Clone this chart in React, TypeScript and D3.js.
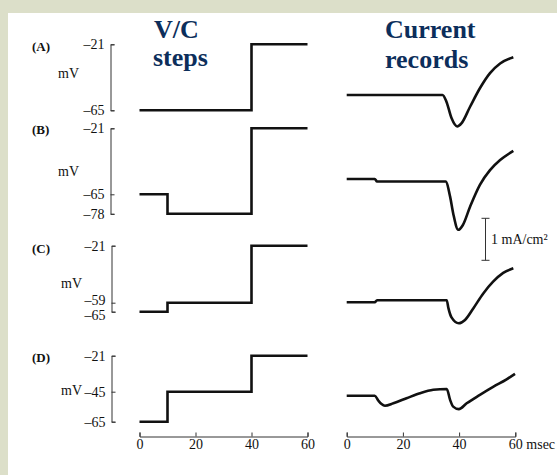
import React, { useRef, useEffect } from "react";
import * as d3 from "d3";

// time axis (msec)
const timeTicks = [0, 20, 40, 60];

// voltage-clamp command steps (mV), held from each stepTimes entry to the next
const stepTimes = [0, 10, 40, 60];
const stepsA = [-65, -65, -21, -21];
const stepsB = [-65, -78, -21, -21];
const stepsC = [-65, -59, -21, -21];
const stepsD = [-65, -45, -21, -21];
const voltTicks = [
  [-21, -65],
  [-21, -65, -78],
  [-21, -59, -65],
  [-21, -45, -65],
];
const panelLabels = ["(A)", "(B)", "(C)", "(D)"];

// current records (mA/cm2, inward negative)
const curTimesA = [0, 34.1, 35.5, 37.3, 39.3, 40.9, 43.9, 47.4, 51, 54.6, 59.3];
const curA = [0, 0, -0.16, -0.55, -0.75, -0.67, -0.28, 0.16, 0.52, 0.75, 0.9];
const curTimesB = [0, 10, 10.8, 35.2, 36.8, 37.9, 39.7, 41.3, 43.9, 47.4, 51, 54.6, 59.3];
const curB = [0, 0, -0.06, -0.06, -0.42, -0.82, -1.21, -1.1, -0.66, -0.14, 0.21, 0.45, 0.67];
const curTimesC = [0, 10, 10.8, 35.6, 36.2, 37.3, 39.9, 42.1, 45.1, 48.6, 52.1, 55.7, 59.3];
const curC = [0, 0, 0.05, 0.05, -0.14, -0.36, -0.5, -0.42, -0.14, 0.21, 0.49, 0.7, 0.81];
const curTimesD = [0, 10, 11.3, 12.4, 13.6, 16.6, 21.3, 26.1, 30.8, 35.6, 36.8, 37.9, 39.9, 42.7, 47.4, 52.1, 56.9, 59.9];
const curD = [0, 0, -0.12, -0.2, -0.24, -0.18, -0.06, 0.06, 0.14, 0.16, -0.1, -0.26, -0.32, -0.18, 0.02, 0.21, 0.39, 0.52];

const steps = [stepsA, stepsB, stepsC, stepsD];
const curTimes = [curTimesA, curTimesB, curTimesC, curTimesD];
const curs = [curA, curB, curC, curD];

// layout
const W = 557, H = 475;
const axisY = 436.5;
const pxPerMV = 1.5;
const pxPerMA = 42;
const panels = [
  { top: 44.3, zero: 95, axX: 110.5, labY: 46, mvX: 58, mvY: 73 },
  { top: 128.3, zero: 179, axX: 110.5, labY: 129, mvX: 58, mvY: 171 },
  { top: 245.7, zero: 302.3, axX: 111.5, labY: 248, mvX: 61, mvY: 283 },
  { top: 355.7, zero: 395.7, axX: 111.5, labY: 357, mvX: 61, mvY: 390.5 },
];
const serif = "'Liberation Serif', 'Times New Roman', serif";
const navy = "#0c2e5b";
const ink = "#111";

const xLeft = d3.scaleLinear().domain([0, 60]).range([139.5, 307.5]);
const xRight = d3.scaleLinear().domain([0, 60]).range([346.7, 515.3]);

const vScale = (i: number) => {
  const lo = d3.min(voltTicks[i]) as number;
  const p = panels[i];
  return d3.scaleLinear().domain([-21, lo]).range([p.top, p.top + (lo + 21) * -pxPerMV]);
};
const iScale = (i: number) =>
  d3.scaleLinear().domain([0, 1]).range([panels[i].zero, panels[i].zero - pxPerMA]);

export default function App() {
  const ref = useRef<SVGSVGElement>(null);

  useEffect(() => {
    const svg = d3.select(ref.current);
    panels.forEach((p, i) => {
      const axis = d3.axisLeft(vScale(i))
        .tickValues(voltTicks[i])
        .tickSizeInner(-4)
        .tickSizeOuter(-4)
        .tickPadding(6)
        .tickFormat((d: any) => "\u2013" + Math.abs(d));
      const g = svg.select(`.vaxis-${i}`).call(axis as any);
      g.attr("font-family", serif).attr("font-size", 14);
      g.selectAll("path,line").attr("stroke", "#333");
      g.selectAll("text").attr("fill", ink);
      // the two close labels in (C) are pushed apart a little, as in the print
      if (i === 2) {
        g.selectAll("text").attr("dy", (d: any) => (d === -59 ? "0.15em" : d === -65 ? "0.55em" : "0.32em"));
      }
    });
    [["tl", xLeft], ["tr", xRight]].forEach(([cls, sc]: any) => {
      const axis = d3.axisBottom(sc)
        .tickValues(timeTicks)
        .tickSizeInner(-4)
        .tickSizeOuter(-4)
        .tickPadding(3)
        .tickFormat(d3.format("d") as any);
      const g = svg.select(`.${cls}`).call(axis as any);
      g.attr("font-family", serif).attr("font-size", 14);
      g.selectAll("path,line").attr("stroke", "#333");
      g.selectAll("text").attr("fill", ink);
    });
  }, []);

  const stepLine = (i: number) => {
    const y = vScale(i);
    return d3.line<number>()
      .x((_, k) => xLeft(stepTimes[k]))
      .y((d) => y(d))
      .curve(d3.curveStepAfter)(steps[i]);
  };
  const curLine = (i: number) => {
    const y = iScale(i);
    return d3.line<number>()
      .x((_, k) => xRight(curTimes[i][k]))
      .y((d) => y(d))
      .curve(d3.curveMonotoneX)(curs[i]);
  };

  const bar = iScale(1);
  const barX = 485.5;
  const barTop = 218.3;
  const barBot = barTop + (bar(0) - bar(1));

  return (
    <svg ref={ref} width={W} height={H}
      style={{ position: "absolute", left: 0, top: 0, display: "block" }}>
      <rect x={0} y={0} width={W} height={H} fill="#dcdfc9" />
      <rect x={8} y={13} width={W - 8} height={H - 13} fill="#ffffff" />

      <g fontFamily={serif} fontWeight="bold" fontSize={26} fill={navy}>
        <text x={154} y={38}>V/C</text>
        <text x={153} y={65.5}>steps</text>
        <text x={385} y={37.5}>Current</text>
        <text x={385} y={68}>records</text>
      </g>

      {panels.map((p, i) => (
        <g key={i}>
          <text x={32} y={p.labY} dy="0.35em" fontFamily={serif} fontWeight="bold"
            fontSize={13} fill={ink}>{panelLabels[i]}</text>
          <text x={p.mvX} y={p.mvY} dy="0.35em" fontFamily={serif} fontSize={14}
            fill={ink}>mV</text>
          <g className={`vaxis-${i}`} transform={`translate(${p.axX},0)`} />
          <path d={stepLine(i) || ""} fill="none" stroke="#111" strokeWidth={2.6} />
          <path d={curLine(i) || ""} fill="none" stroke="#111" strokeWidth={2.6}
            strokeLinejoin="round" />
        </g>
      ))}

      <g stroke="#333" strokeWidth={1}>
        <line x1={barX} x2={barX} y1={barTop} y2={barBot} />
        <line x1={barX - 4} x2={barX + 4} y1={barTop} y2={barTop} />
        <line x1={barX - 4} x2={barX + 4} y1={barBot} y2={barBot} />
      </g>
      <text x={491} y={(barTop + barBot) / 2} dy="0.35em" fontFamily={serif}
        fontSize={14} fill={ink}>1 mA/cm²</text>

      <g className="tl" transform={`translate(0,${axisY})`} />
      <g className="tr" transform={`translate(0,${axisY})`} />
      <text x={xRight(60) + 11} y={axisY + 3} dy="0.71em" fontFamily={serif}
        fontSize={14} fill={ink}>msec</text>
    </svg>
  );
}
